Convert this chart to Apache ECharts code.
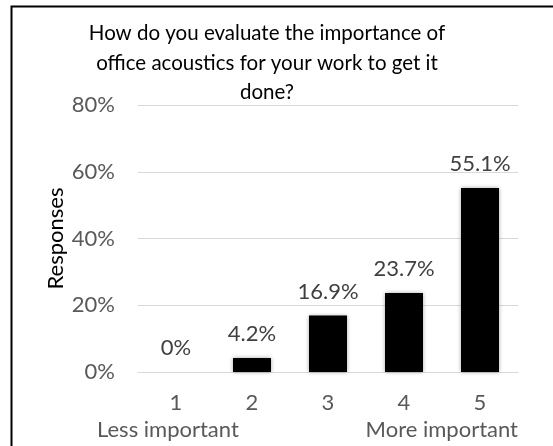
<!DOCTYPE html>
<html>
<head>
<meta charset="utf-8">
<script src="https://cdn.jsdelivr.net/npm/echarts@6/dist/echarts.min.js"></script>
<style>
  html, body { margin: 0; padding: 0; background: #fff; }
  #chart { width: 553px; height: 446px; }
</style>
</head>
<body>
<div id="chart"></div>
<script>
const categories = ['1', '2', '3', '4', '5']
const responses = [0, 4.2, 16.9, 23.7, 55.1]
const scaleEnds = ['Less important', 'More important']
const titleText = 'How do you evaluate the importance of\noffice acoustics for your work to get it\ndone?'
const FONT = 'Lato, "Noto Sans", sans-serif'

const chart = echarts.init(document.getElementById('chart'))

const option = {
  animation: false,
  title: {
    text: titleText,
    left: 262,
    top: 14,
    textAlign: 'center',
    textStyle: {
      fontFamily: FONT,
      fontSize: 20.5,
      fontWeight: 'normal',
      color: '#000',
      lineHeight: 29.5
    }
  },
  grid: { left: 138, right: 35, top: 105, bottom: 74 },
  xAxis: {
    type: 'category',
    data: categories,
    axisLine: { lineStyle: { color: '#d9d9d9', width: 1 } },
    axisTick: { show: false },
    axisLabel: { color: '#595959', fontFamily: FONT, fontSize: 22, margin: 20 }
  },
  yAxis: {
    type: 'value',
    min: 0,
    max: 80,
    interval: 20,
    name: 'Responses',
    nameLocation: 'middle',
    nameGap: 71,
    nameMoveOverlap: false,
    nameTextStyle: { color: '#000', fontFamily: FONT, fontSize: 22 },
    axisLabel: {
      color: '#595959',
      fontFamily: FONT,
      fontSize: 22,
      margin: 23,
      formatter: v => v + '%'
    },
    splitLine: { lineStyle: { color: '#d9d9d9', width: 1 } }
  },
  series: [{
    type: 'bar',
    data: responses,
    barWidth: 38,
    itemStyle: {
      color: '#000',
      shadowBlur: 4,
      shadowColor: 'rgba(0,0,0,0.35)'
    },
    label: {
      show: true,
      position: 'top',
      distance: 13,
      color: '#404040',
      fontFamily: FONT,
      fontSize: 22,
      formatter: p => p.value + '%'
    }
  }],
  graphic: [
    {
      type: 'rect',
      shape: { x: 11.5, y: 6.5, width: 700, height: 600 },
      style: { fill: 'none', stroke: '#000', lineWidth: 2 },
      silent: true
    },
    {
      type: 'text',
      left: 97,
      top: 419,
      style: { text: scaleEnds[0], fill: '#595959', font: '22px ' + FONT }
    },
    {
      type: 'text',
      right: 35,
      top: 419,
      style: { text: scaleEnds[1], fill: '#595959', font: '22px ' + FONT }
    }
  ]
}

chart.setOption(option)
</script>
</body>
</html>
